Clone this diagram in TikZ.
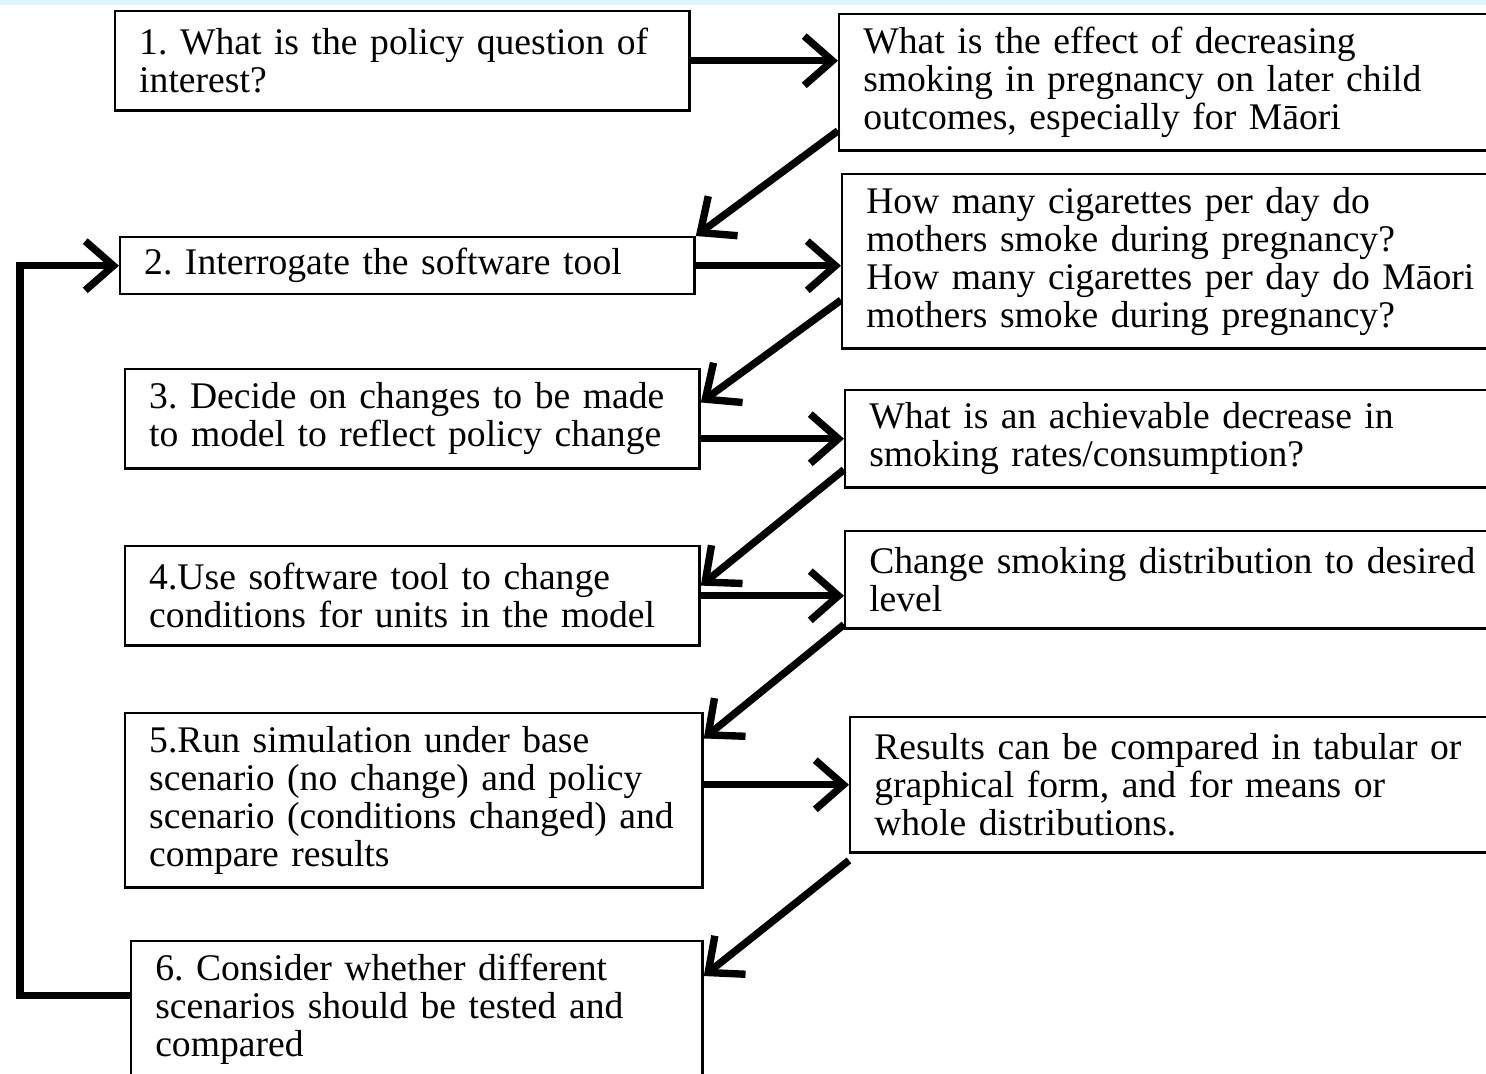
\documentclass[tikz,border=0pt]{standalone}
\usepackage{fontspec}
\setmainfont{Liberation Serif}
\usetikzlibrary{arrows.meta,calc}
\definecolor{topband}{RGB}{221,244,250}

\begin{document}
\begin{tikzpicture}[x=0.01cm, y=-0.01cm,
        box/.style={draw, line width=0.7pt, anchor=north west, align=left,
            inner xsep=0.24cm, inner ysep=0pt, font=\fontsize{10.7}{10.8}\selectfont\frenchspacing},
        arr/.style={line width=2.1pt, -{Straight Barb[length=8pt,width=14pt]}}]
        \useasboundingbox (0,0) rectangle (1486,1074);
        \fill[topband] (0,0) rectangle (1486,5);

        % steps
        \node[box, text width=5.26cm, minimum height=0.99cm] (b1) at (114,10) {1. What is the policy question of\\interest?};
        \node[box, text width=5.26cm, minimum height=0.57cm] (b2) at (119,236) {2. Interrogate the software tool};
        \node[box, text width=5.26cm, minimum height=0.99cm] (b3) at (124,368) {3. Decide on changes to be made\\to model to reflect policy change};
        \node[box, text width=5.26cm, minimum height=0.99cm] (b4) at (124,545) {4.Use software tool to change\\conditions for units in the model};
        \node[box, text width=5.29cm, minimum height=1.74cm] (b5) at (124,712) {5.Run simulation under base\\scenario (no change) and policy\\scenario (conditions changed) and\\compare results};
        \node[box, text width=5.23cm, minimum height=1.36cm] (b6) at (130,940) {6. Consider whether different\\scenarios should be tested and\\compared};

        % smoking example
        \node[box, text width=6.34cm, minimum height=1.36cm] (r1) at (838,13) {What is the effect of decreasing\\smoking in pregnancy on later child\\outcomes, especially for Māori};
        \node[box, text width=6.31cm, minimum height=1.74cm] (r2) at (841,173) {How many cigarettes per day do\\mothers smoke during pregnancy?\\How many cigarettes per day do Māori\\mothers smoke during pregnancy?};
        \node[box, text width=6.28cm, minimum height=0.97cm] (r3) at (844,389) {What is an achievable decrease in\\smoking rates/consumption?};
        \node[box, text width=6.28cm, minimum height=0.97cm] (r4) at (844,530) {Change smoking distribution to desired\\level};
        \node[box, text width=6.23cm, minimum height=1.35cm] (r5) at (849,716) {Results can be compared in tabular or\\graphical form, and for means or\\whole distributions.};

        % across
        \draw[arr] (b1.east) -- (b1.east -| r1.west);
        \draw[arr] (b2.east) -- (b2.east -| r2.west);
        \draw[arr] (b3.east |- r3.west) -- (r3.west);
        \draw[arr] (b4.east) -- (b4.east -| r4.west);
        \draw[arr] (b5.east |- r5.west) -- (r5.west);

        % back down
        \draw[arr] ($(r1.north west)!0.85!(r1.south west)$) -- (b2.north east);
        \draw[arr] ($(r2.north west)!0.72!(r2.south west)$) -- ($(b3.north east)!0.34!(b3.south east)$);
        \draw[arr] ($(r3.north west)!0.81!(r3.south west)$) -- ($(b4.north east)!0.4!(b4.south east)$);
        \draw[arr] ($(r4.north west)!0.95!(r4.south west)$) -- ($(b5.north east)!0.15!(b5.south east)$);
        \draw[arr] ($(r5.north west)!1.05!(r5.south west)$) -- ($(b6.north east)!0.26!(b6.south east)$);

        % loop
        \draw[arr] ($(b6.north west)!0.4!(b6.south west)$) -- ++(-110,0) |- (b2.west);
\end{tikzpicture}
\end{document}
